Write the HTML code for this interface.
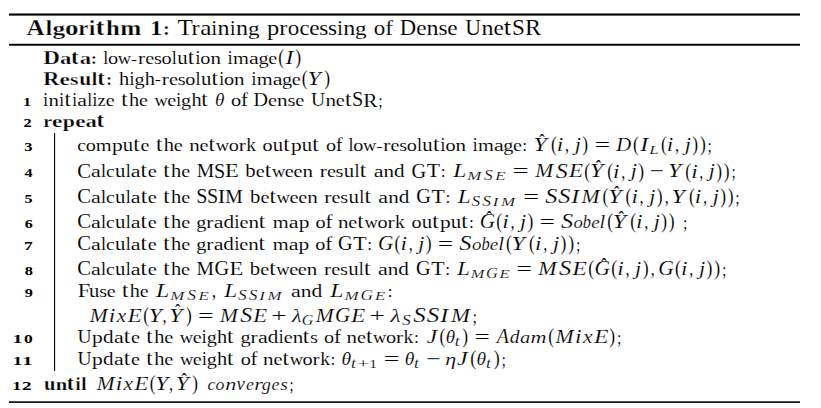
<!DOCTYPE html><html><head><meta charset="utf-8"><title>Algorithm 1</title><style>html,body{margin:0;padding:0;background:#fff;width:821px;height:408px;overflow:hidden}svg{display:block}text{font-family:"Liberation Serif",serif;fill:#000;stroke:#fff;stroke-width:0.1px}.i{font-style:italic;stroke-width:0.16px}.b{font-weight:bold;stroke-width:0.25px}.n{font-weight:bold;stroke-width:0.0px}</style></head><body>
<svg width="821" height="408" viewBox="0 0 821 408">
<rect x="9" y="13.5" width="791" height="2.1" fill="#000"/>
<rect x="9" y="43.8" width="791" height="1.9" fill="#000"/>
<rect x="9" y="401.3" width="791" height="1.6" fill="#000"/>
<rect x="54" y="133" width="1.1" height="238" fill="#000"/>
<g id="title_t">
<text class="b" x="26.46" y="35.00" font-size="22.78" textLength="18.05" lengthAdjust="spacingAndGlyphs">A</text>
<text class="b" x="45.79" y="35.00" font-size="21.49" textLength="6.37" lengthAdjust="spacingAndGlyphs">l</text>
<text class="b" x="52.41" y="35.07" font-size="19.23" textLength="12.67" lengthAdjust="spacingAndGlyphs">g</text>
<text class="b" x="64.91" y="34.93" font-size="20.50" textLength="13.46" lengthAdjust="spacingAndGlyphs">o</text>
<text class="b" x="78.28" y="35.00" font-size="20.41" textLength="10.06" lengthAdjust="spacingAndGlyphs">r</text>
<text class="b" x="89.11" y="35.00" font-size="21.52" textLength="6.19" lengthAdjust="spacingAndGlyphs">i</text>
<text class="b" x="95.80" y="34.89" font-size="24.04" textLength="8.60" lengthAdjust="spacingAndGlyphs">t</text>
<text class="b" x="106.08" y="35.00" font-size="21.49" textLength="13.75" lengthAdjust="spacingAndGlyphs">h</text>
<text class="b" x="120.31" y="35.00" font-size="20.52" textLength="21.02" lengthAdjust="spacingAndGlyphs">m</text>
<text class="b" x="150.02" y="35.00" font-size="21.35" textLength="12.33" lengthAdjust="spacingAndGlyphs">1</text>
<text class="b" x="163.14" y="34.72" font-size="19.75" textLength="6.78" lengthAdjust="spacingAndGlyphs">:</text>
<text x="177.55" y="35.00" font-size="22.25" textLength="15.33" lengthAdjust="spacingAndGlyphs">T</text>
<text x="191.57" y="35.00" font-size="20.11" textLength="8.09" lengthAdjust="spacingAndGlyphs">r</text>
<text x="200.18" y="35.02" font-size="20.45" textLength="11.24" lengthAdjust="spacingAndGlyphs">a</text>
<text x="211.53" y="35.00" font-size="21.58" textLength="5.52" lengthAdjust="spacingAndGlyphs">i</text>
<text x="217.56" y="35.00" font-size="20.11" textLength="12.03" lengthAdjust="spacingAndGlyphs">n</text>
<text x="230.08" y="35.00" font-size="21.58" textLength="5.52" lengthAdjust="spacingAndGlyphs">i</text>
<text x="236.10" y="35.00" font-size="20.11" textLength="12.03" lengthAdjust="spacingAndGlyphs">n</text>
<text x="247.91" y="35.23" font-size="19.36" textLength="11.62" lengthAdjust="spacingAndGlyphs">g</text>
<text x="267.10" y="34.92" font-size="19.94" textLength="12.26" lengthAdjust="spacingAndGlyphs">p</text>
<text x="279.37" y="35.00" font-size="20.11" textLength="8.09" lengthAdjust="spacingAndGlyphs">r</text>
<text x="287.68" y="35.02" font-size="20.37" textLength="11.50" lengthAdjust="spacingAndGlyphs">o</text>
<text x="299.56" y="35.02" font-size="20.37" textLength="9.98" lengthAdjust="spacingAndGlyphs">c</text>
<text x="309.29" y="35.02" font-size="20.37" textLength="10.28" lengthAdjust="spacingAndGlyphs">e</text>
<text x="319.20" y="35.02" font-size="20.37" textLength="9.04" lengthAdjust="spacingAndGlyphs">s</text>
<text x="327.98" y="35.02" font-size="20.37" textLength="9.04" lengthAdjust="spacingAndGlyphs">s</text>
<text x="337.29" y="35.00" font-size="21.58" textLength="5.52" lengthAdjust="spacingAndGlyphs">i</text>
<text x="343.32" y="35.00" font-size="20.11" textLength="12.03" lengthAdjust="spacingAndGlyphs">n</text>
<text x="355.12" y="35.23" font-size="19.36" textLength="11.62" lengthAdjust="spacingAndGlyphs">g</text>
<text x="373.85" y="35.02" font-size="20.37" textLength="11.50" lengthAdjust="spacingAndGlyphs">o</text>
<text x="385.16" y="35.00" font-size="21.48" textLength="7.79" lengthAdjust="spacingAndGlyphs">f</text>
<text x="399.69" y="34.96" font-size="22.34" textLength="16.36" lengthAdjust="spacingAndGlyphs">D</text>
<text x="416.16" y="35.02" font-size="20.37" textLength="10.28" lengthAdjust="spacingAndGlyphs">e</text>
<text x="426.45" y="35.00" font-size="20.11" textLength="12.03" lengthAdjust="spacingAndGlyphs">n</text>
<text x="438.44" y="35.02" font-size="20.37" textLength="9.04" lengthAdjust="spacingAndGlyphs">s</text>
<text x="447.19" y="35.02" font-size="20.37" textLength="10.28" lengthAdjust="spacingAndGlyphs">e</text>
<text x="465.22" y="35.23" font-size="22.76" textLength="15.71" lengthAdjust="spacingAndGlyphs">U</text>
<text x="481.60" y="35.00" font-size="20.11" textLength="12.03" lengthAdjust="spacingAndGlyphs">n</text>
<text x="493.57" y="35.02" font-size="20.37" textLength="10.28" lengthAdjust="spacingAndGlyphs">e</text>
<text x="503.83" y="34.99" font-size="23.44" textLength="7.42" lengthAdjust="spacingAndGlyphs">t</text>
<text x="512.02" y="35.22" font-size="23.18" textLength="12.87" lengthAdjust="spacingAndGlyphs">S</text>
<text x="524.96" y="35.45" font-size="23.10" textLength="16.07" lengthAdjust="spacingAndGlyphs">R</text>
</g>
<g id="data_t">
<text class="b" x="43.29" y="64.16" font-size="19.28" textLength="16.71" lengthAdjust="spacingAndGlyphs">D</text>
<text class="b" x="60.04" y="64.14" font-size="17.69" textLength="11.33" lengthAdjust="spacingAndGlyphs">a</text>
<text class="b" x="71.09" y="64.11" font-size="20.66" textLength="7.50" lengthAdjust="spacingAndGlyphs">t</text>
<text class="b" x="79.67" y="64.14" font-size="17.69" textLength="11.33" lengthAdjust="spacingAndGlyphs">a</text>
<text class="b" x="90.71" y="63.96" font-size="16.97" textLength="6.27" lengthAdjust="spacingAndGlyphs">:</text>
<text x="103.14" y="64.20" font-size="18.46" textLength="5.03" lengthAdjust="spacingAndGlyphs">l</text>
<text x="108.02" y="64.23" font-size="17.62" textLength="10.14" lengthAdjust="spacingAndGlyphs">o</text>
<text x="117.74" y="64.23" font-size="17.40" textLength="13.39" lengthAdjust="spacingAndGlyphs">w</text>
<text x="131.12" y="63.67" font-size="14.77" textLength="6.15" lengthAdjust="spacingAndGlyphs">-</text>
<text x="138.00" y="64.20" font-size="17.31" textLength="7.14" lengthAdjust="spacingAndGlyphs">r</text>
<text x="145.24" y="64.23" font-size="17.62" textLength="9.00" lengthAdjust="spacingAndGlyphs">e</text>
<text x="153.91" y="64.23" font-size="17.62" textLength="7.91" lengthAdjust="spacingAndGlyphs">s</text>
<text x="161.53" y="64.23" font-size="17.62" textLength="10.14" lengthAdjust="spacingAndGlyphs">o</text>
<text x="171.74" y="64.20" font-size="18.46" textLength="5.03" lengthAdjust="spacingAndGlyphs">l</text>
<text x="177.20" y="64.23" font-size="17.84" textLength="10.39" lengthAdjust="spacingAndGlyphs">u</text>
<text x="187.77" y="64.20" font-size="20.17" textLength="6.43" lengthAdjust="spacingAndGlyphs">t</text>
<text x="195.45" y="64.20" font-size="18.65" textLength="4.85" lengthAdjust="spacingAndGlyphs">i</text>
<text x="200.34" y="64.23" font-size="17.62" textLength="10.14" lengthAdjust="spacingAndGlyphs">o</text>
<text x="210.40" y="64.20" font-size="17.31" textLength="10.56" lengthAdjust="spacingAndGlyphs">n</text>
<text x="227.80" y="64.20" font-size="18.65" textLength="4.85" lengthAdjust="spacingAndGlyphs">i</text>
<text x="233.09" y="64.20" font-size="17.31" textLength="15.90" lengthAdjust="spacingAndGlyphs">m</text>
<text x="249.13" y="64.23" font-size="17.69" textLength="9.81" lengthAdjust="spacingAndGlyphs">a</text>
<text x="258.46" y="64.40" font-size="16.69" textLength="10.12" lengthAdjust="spacingAndGlyphs">g</text>
<text x="268.23" y="64.23" font-size="17.62" textLength="9.00" lengthAdjust="spacingAndGlyphs">e</text>
<text x="278.26" y="64.48" font-size="20.36" textLength="5.84" lengthAdjust="spacingAndGlyphs">(</text>
<text class="i" x="285.40" y="64.20" font-size="19.25" textLength="7.96" lengthAdjust="spacingAndGlyphs">I</text>
<text x="295.23" y="64.48" font-size="20.36" textLength="5.84" lengthAdjust="spacingAndGlyphs">)</text>
</g>
<g id="res_t">
<text class="b" x="43.32" y="85.21" font-size="19.65" textLength="16.08" lengthAdjust="spacingAndGlyphs">R</text>
<text class="b" x="59.51" y="84.95" font-size="17.67" textLength="10.37" lengthAdjust="spacingAndGlyphs">e</text>
<text class="b" x="69.99" y="84.95" font-size="17.62" textLength="8.51" lengthAdjust="spacingAndGlyphs">s</text>
<text class="b" x="79.27" y="84.90" font-size="17.86" textLength="11.97" lengthAdjust="spacingAndGlyphs">u</text>
<text class="b" x="91.65" y="85.01" font-size="18.46" textLength="5.50" lengthAdjust="spacingAndGlyphs">l</text>
<text class="b" x="97.37" y="84.92" font-size="20.66" textLength="7.47" lengthAdjust="spacingAndGlyphs">t</text>
<text class="b" x="106.04" y="84.77" font-size="16.97" textLength="6.24" lengthAdjust="spacingAndGlyphs">:</text>
<text x="119.00" y="85.01" font-size="18.46" textLength="10.22" lengthAdjust="spacingAndGlyphs">h</text>
<text x="129.62" y="85.01" font-size="18.65" textLength="4.85" lengthAdjust="spacingAndGlyphs">i</text>
<text x="134.41" y="85.21" font-size="16.69" textLength="10.11" lengthAdjust="spacingAndGlyphs">g</text>
<text x="144.84" y="85.01" font-size="18.46" textLength="10.22" lengthAdjust="spacingAndGlyphs">h</text>
<text x="154.89" y="84.48" font-size="14.77" textLength="6.15" lengthAdjust="spacingAndGlyphs">-</text>
<text x="161.76" y="85.01" font-size="17.31" textLength="7.13" lengthAdjust="spacingAndGlyphs">r</text>
<text x="168.99" y="85.04" font-size="17.62" textLength="8.99" lengthAdjust="spacingAndGlyphs">e</text>
<text x="177.66" y="85.04" font-size="17.62" textLength="7.90" lengthAdjust="spacingAndGlyphs">s</text>
<text x="185.27" y="85.04" font-size="17.62" textLength="10.13" lengthAdjust="spacingAndGlyphs">o</text>
<text x="195.46" y="85.01" font-size="18.46" textLength="5.03" lengthAdjust="spacingAndGlyphs">l</text>
<text x="200.92" y="85.04" font-size="17.84" textLength="10.38" lengthAdjust="spacingAndGlyphs">u</text>
<text x="211.48" y="85.01" font-size="20.17" textLength="6.43" lengthAdjust="spacingAndGlyphs">t</text>
<text x="219.15" y="85.01" font-size="18.65" textLength="4.85" lengthAdjust="spacingAndGlyphs">i</text>
<text x="224.03" y="85.04" font-size="17.62" textLength="10.13" lengthAdjust="spacingAndGlyphs">o</text>
<text x="234.09" y="85.01" font-size="17.31" textLength="10.55" lengthAdjust="spacingAndGlyphs">n</text>
<text x="251.44" y="85.01" font-size="18.65" textLength="4.85" lengthAdjust="spacingAndGlyphs">i</text>
<text x="256.75" y="85.01" font-size="17.31" textLength="15.88" lengthAdjust="spacingAndGlyphs">m</text>
<text x="272.74" y="85.04" font-size="17.69" textLength="9.81" lengthAdjust="spacingAndGlyphs">a</text>
<text x="282.07" y="85.21" font-size="16.69" textLength="10.11" lengthAdjust="spacingAndGlyphs">g</text>
<text x="291.84" y="85.04" font-size="17.62" textLength="8.99" lengthAdjust="spacingAndGlyphs">e</text>
<text x="301.85" y="85.29" font-size="20.36" textLength="5.83" lengthAdjust="spacingAndGlyphs">(</text>
<text class="i" x="307.55" y="85.01" font-size="19.25" textLength="13.33" lengthAdjust="spacingAndGlyphs">Y</text>
<text x="324.34" y="85.29" font-size="20.36" textLength="5.83" lengthAdjust="spacingAndGlyphs">)</text>
</g>
<g id="l1_n">
<text class="n" x="23.09" y="106.10" font-size="11.50" textLength="8.16" lengthAdjust="spacingAndGlyphs">1</text>
</g>
<g id="l1_t">
<text x="43.34" y="106.10" font-size="18.65" textLength="4.81" lengthAdjust="spacingAndGlyphs">i</text>
<text x="48.54" y="106.10" font-size="17.31" textLength="10.47" lengthAdjust="spacingAndGlyphs">n</text>
<text x="59.37" y="106.10" font-size="18.65" textLength="4.81" lengthAdjust="spacingAndGlyphs">i</text>
<text x="64.58" y="106.10" font-size="20.17" textLength="6.38" lengthAdjust="spacingAndGlyphs">t</text>
<text x="72.19" y="106.10" font-size="18.65" textLength="4.81" lengthAdjust="spacingAndGlyphs">i</text>
<text x="77.30" y="106.13" font-size="17.69" textLength="9.75" lengthAdjust="spacingAndGlyphs">a</text>
<text x="87.15" y="106.10" font-size="18.46" textLength="4.99" lengthAdjust="spacingAndGlyphs">l</text>
<text x="92.49" y="106.10" font-size="18.65" textLength="4.81" lengthAdjust="spacingAndGlyphs">i</text>
<text x="97.60" y="106.10" font-size="17.33" textLength="8.18" lengthAdjust="spacingAndGlyphs">z</text>
<text x="105.86" y="106.13" font-size="17.62" textLength="8.93" lengthAdjust="spacingAndGlyphs">e</text>
<text x="121.20" y="106.10" font-size="20.17" textLength="6.38" lengthAdjust="spacingAndGlyphs">t</text>
<text x="128.96" y="106.10" font-size="18.46" textLength="10.14" lengthAdjust="spacingAndGlyphs">h</text>
<text x="138.98" y="106.13" font-size="17.62" textLength="8.93" lengthAdjust="spacingAndGlyphs">e</text>
<text x="154.52" y="106.13" font-size="17.40" textLength="13.27" lengthAdjust="spacingAndGlyphs">w</text>
<text x="167.30" y="106.13" font-size="17.62" textLength="8.93" lengthAdjust="spacingAndGlyphs">e</text>
<text x="176.37" y="106.10" font-size="18.65" textLength="4.81" lengthAdjust="spacingAndGlyphs">i</text>
<text x="181.11" y="106.30" font-size="16.69" textLength="10.03" lengthAdjust="spacingAndGlyphs">g</text>
<text x="191.47" y="106.10" font-size="18.46" textLength="10.14" lengthAdjust="spacingAndGlyphs">h</text>
<text x="201.34" y="106.10" font-size="20.17" textLength="6.38" lengthAdjust="spacingAndGlyphs">t</text>
<text class="i" x="214.96" y="106.12" font-size="18.64" textLength="9.43" lengthAdjust="spacingAndGlyphs">θ</text>
<text x="231.03" y="106.13" font-size="17.62" textLength="10.18" lengthAdjust="spacingAndGlyphs">o</text>
<text x="241.01" y="106.10" font-size="18.48" textLength="6.95" lengthAdjust="spacingAndGlyphs">f</text>
<text x="253.55" y="106.06" font-size="19.20" textLength="14.47" lengthAdjust="spacingAndGlyphs">D</text>
<text x="268.08" y="106.13" font-size="17.62" textLength="9.04" lengthAdjust="spacingAndGlyphs">e</text>
<text x="277.13" y="106.10" font-size="17.31" textLength="10.61" lengthAdjust="spacingAndGlyphs">n</text>
<text x="287.62" y="106.13" font-size="17.62" textLength="7.95" lengthAdjust="spacingAndGlyphs">s</text>
<text x="295.25" y="106.13" font-size="17.62" textLength="9.04" lengthAdjust="spacingAndGlyphs">e</text>
<text x="310.90" y="106.31" font-size="19.58" textLength="14.13" lengthAdjust="spacingAndGlyphs">U</text>
<text x="325.41" y="106.10" font-size="17.31" textLength="10.61" lengthAdjust="spacingAndGlyphs">n</text>
<text x="335.85" y="106.13" font-size="17.62" textLength="9.04" lengthAdjust="spacingAndGlyphs">e</text>
<text x="344.90" y="106.10" font-size="20.17" textLength="6.46" lengthAdjust="spacingAndGlyphs">t</text>
<text x="352.07" y="106.31" font-size="19.97" textLength="11.23" lengthAdjust="spacingAndGlyphs">S</text>
<text x="363.23" y="106.50" font-size="19.87" textLength="14.23" lengthAdjust="spacingAndGlyphs">R</text>
<text x="378.44" y="106.82" font-size="18.49" textLength="3.95" lengthAdjust="spacingAndGlyphs">;</text>
</g>
<g id="l2_n">
<text class="n" x="23.52" y="127.01" font-size="11.50" textLength="8.18" lengthAdjust="spacingAndGlyphs">2</text>
</g>
<g id="l2_t">
<text class="b" x="43.17" y="127.01" font-size="17.54" textLength="8.83" lengthAdjust="spacingAndGlyphs">r</text>
<text class="b" x="52.01" y="126.95" font-size="17.67" textLength="10.38" lengthAdjust="spacingAndGlyphs">e</text>
<text class="b" x="62.87" y="126.89" font-size="17.38" textLength="12.10" lengthAdjust="spacingAndGlyphs">p</text>
<text class="b" x="75.29" y="126.95" font-size="17.67" textLength="10.38" lengthAdjust="spacingAndGlyphs">e</text>
<text class="b" x="85.61" y="126.95" font-size="17.69" textLength="11.29" lengthAdjust="spacingAndGlyphs">a</text>
<text class="b" x="96.62" y="126.92" font-size="20.66" textLength="7.48" lengthAdjust="spacingAndGlyphs">t</text>
</g>
<g id="l3_n">
<text class="n" x="24.29" y="151.20" font-size="11.50" textLength="8.27" lengthAdjust="spacingAndGlyphs">3</text>
</g>
<g id="l3_t">
<text x="77.25" y="151.23" font-size="17.62" textLength="8.72" lengthAdjust="spacingAndGlyphs">c</text>
<text x="85.71" y="151.23" font-size="17.62" textLength="10.11" lengthAdjust="spacingAndGlyphs">o</text>
<text x="95.80" y="151.20" font-size="17.31" textLength="15.86" lengthAdjust="spacingAndGlyphs">m</text>
<text x="111.93" y="151.12" font-size="17.16" textLength="10.72" lengthAdjust="spacingAndGlyphs">p</text>
<text x="122.83" y="151.23" font-size="17.84" textLength="10.36" lengthAdjust="spacingAndGlyphs">u</text>
<text x="133.37" y="151.20" font-size="20.17" textLength="6.42" lengthAdjust="spacingAndGlyphs">t</text>
<text x="140.51" y="151.23" font-size="17.62" textLength="8.98" lengthAdjust="spacingAndGlyphs">e</text>
<text x="155.94" y="151.20" font-size="20.17" textLength="6.42" lengthAdjust="spacingAndGlyphs">t</text>
<text x="163.74" y="151.20" font-size="18.46" textLength="10.20" lengthAdjust="spacingAndGlyphs">h</text>
<text x="173.82" y="151.23" font-size="17.62" textLength="8.98" lengthAdjust="spacingAndGlyphs">e</text>
<text x="189.26" y="151.20" font-size="17.31" textLength="10.53" lengthAdjust="spacingAndGlyphs">n</text>
<text x="199.62" y="151.23" font-size="17.62" textLength="8.98" lengthAdjust="spacingAndGlyphs">e</text>
<text x="208.61" y="151.20" font-size="20.17" textLength="6.42" lengthAdjust="spacingAndGlyphs">t</text>
<text x="215.78" y="151.23" font-size="17.40" textLength="13.35" lengthAdjust="spacingAndGlyphs">w</text>
<text x="228.65" y="151.23" font-size="17.62" textLength="10.11" lengthAdjust="spacingAndGlyphs">o</text>
<text x="238.67" y="151.20" font-size="17.31" textLength="7.12" lengthAdjust="spacingAndGlyphs">r</text>
<text x="246.30" y="151.20" font-size="18.46" textLength="9.71" lengthAdjust="spacingAndGlyphs">k</text>
<text x="262.56" y="151.23" font-size="17.62" textLength="10.11" lengthAdjust="spacingAndGlyphs">o</text>
<text x="272.80" y="151.23" font-size="17.84" textLength="10.36" lengthAdjust="spacingAndGlyphs">u</text>
<text x="283.35" y="151.20" font-size="20.17" textLength="6.42" lengthAdjust="spacingAndGlyphs">t</text>
<text x="290.93" y="151.12" font-size="17.16" textLength="10.72" lengthAdjust="spacingAndGlyphs">p</text>
<text x="301.83" y="151.23" font-size="17.84" textLength="10.36" lengthAdjust="spacingAndGlyphs">u</text>
<text x="312.37" y="151.20" font-size="20.17" textLength="6.42" lengthAdjust="spacingAndGlyphs">t</text>
<text x="325.98" y="151.23" font-size="17.62" textLength="10.11" lengthAdjust="spacingAndGlyphs">o</text>
<text x="335.89" y="151.20" font-size="18.48" textLength="6.91" lengthAdjust="spacingAndGlyphs">f</text>
<text x="348.52" y="151.20" font-size="18.46" textLength="5.02" lengthAdjust="spacingAndGlyphs">l</text>
<text x="353.39" y="151.23" font-size="17.62" textLength="10.11" lengthAdjust="spacingAndGlyphs">o</text>
<text x="363.08" y="151.23" font-size="17.40" textLength="13.35" lengthAdjust="spacingAndGlyphs">w</text>
<text x="376.41" y="150.67" font-size="14.77" textLength="6.15" lengthAdjust="spacingAndGlyphs">-</text>
<text x="383.28" y="151.20" font-size="17.31" textLength="7.12" lengthAdjust="spacingAndGlyphs">r</text>
<text x="390.49" y="151.23" font-size="17.62" textLength="8.98" lengthAdjust="spacingAndGlyphs">e</text>
<text x="399.15" y="151.23" font-size="17.62" textLength="7.89" lengthAdjust="spacingAndGlyphs">s</text>
<text x="406.74" y="151.23" font-size="17.62" textLength="10.11" lengthAdjust="spacingAndGlyphs">o</text>
<text x="416.92" y="151.20" font-size="18.46" textLength="5.02" lengthAdjust="spacingAndGlyphs">l</text>
<text x="422.36" y="151.23" font-size="17.84" textLength="10.36" lengthAdjust="spacingAndGlyphs">u</text>
<text x="432.91" y="151.20" font-size="20.17" textLength="6.42" lengthAdjust="spacingAndGlyphs">t</text>
<text x="440.56" y="151.20" font-size="18.65" textLength="4.84" lengthAdjust="spacingAndGlyphs">i</text>
<text x="445.44" y="151.23" font-size="17.62" textLength="10.11" lengthAdjust="spacingAndGlyphs">o</text>
<text x="455.47" y="151.20" font-size="17.31" textLength="10.53" lengthAdjust="spacingAndGlyphs">n</text>
<text x="472.82" y="151.20" font-size="18.65" textLength="4.84" lengthAdjust="spacingAndGlyphs">i</text>
<text x="478.09" y="151.20" font-size="17.31" textLength="15.86" lengthAdjust="spacingAndGlyphs">m</text>
<text x="494.08" y="151.23" font-size="17.69" textLength="9.80" lengthAdjust="spacingAndGlyphs">a</text>
<text x="503.39" y="151.40" font-size="16.69" textLength="10.09" lengthAdjust="spacingAndGlyphs">g</text>
<text x="513.14" y="151.23" font-size="17.62" textLength="8.98" lengthAdjust="spacingAndGlyphs">e</text>
<text x="522.27" y="150.96" font-size="16.46" textLength="4.84" lengthAdjust="spacingAndGlyphs">:</text>
<text class="i" x="533.43" y="151.20" font-size="19.25" textLength="13.38" lengthAdjust="spacingAndGlyphs">Y</text>
<text x="539.18" y="146.81" font-size="19.02" textLength="5.47" lengthAdjust="spacingAndGlyphs">ˆ</text>
<text x="550.89" y="151.48" font-size="20.36" textLength="5.85" lengthAdjust="spacingAndGlyphs">(</text>
<text class="i" x="556.89" y="151.40" font-size="18.73" textLength="6.51" lengthAdjust="spacingAndGlyphs">i</text>
<text class="i" x="565.05" y="151.45" font-size="21.49" textLength="4.03" lengthAdjust="spacingAndGlyphs">,</text>
<text class="i" x="574.78" y="151.09" font-size="18.27" textLength="6.15" lengthAdjust="spacingAndGlyphs">j</text>
<text x="582.33" y="151.48" font-size="20.36" textLength="5.85" lengthAdjust="spacingAndGlyphs">)</text>
<text x="594.47" y="151.20" font-size="18.46" textLength="15.68" lengthAdjust="spacingAndGlyphs">=</text>
<text class="i" x="616.31" y="151.16" font-size="19.20" textLength="14.95" lengthAdjust="spacingAndGlyphs">D</text>
<text x="633.11" y="151.48" font-size="20.36" textLength="5.85" lengthAdjust="spacingAndGlyphs">(</text>
<text class="i" x="640.27" y="151.20" font-size="19.25" textLength="7.98" lengthAdjust="spacingAndGlyphs">I</text>
<text class="i" x="649.27" y="154.05" font-size="13.48" textLength="9.37" lengthAdjust="spacingAndGlyphs">L</text>
<text x="660.88" y="151.48" font-size="20.36" textLength="5.85" lengthAdjust="spacingAndGlyphs">(</text>
<text class="i" x="666.87" y="151.40" font-size="18.73" textLength="6.51" lengthAdjust="spacingAndGlyphs">i</text>
<text class="i" x="675.03" y="151.45" font-size="21.49" textLength="4.03" lengthAdjust="spacingAndGlyphs">,</text>
<text class="i" x="684.76" y="151.09" font-size="18.27" textLength="6.15" lengthAdjust="spacingAndGlyphs">j</text>
<text x="692.31" y="151.48" font-size="20.36" textLength="5.85" lengthAdjust="spacingAndGlyphs">)</text>
<text x="699.88" y="151.48" font-size="20.36" textLength="5.85" lengthAdjust="spacingAndGlyphs">)</text>
<text x="707.84" y="151.92" font-size="18.49" textLength="3.94" lengthAdjust="spacingAndGlyphs">;</text>
</g>
<g id="l4_n">
<text class="n" x="24.64" y="177.40" font-size="11.50" textLength="8.06" lengthAdjust="spacingAndGlyphs">4</text>
</g>
<g id="l4_t">
<text x="77.15" y="177.61" font-size="19.97" textLength="13.80" lengthAdjust="spacingAndGlyphs">C</text>
<text x="90.96" y="177.43" font-size="17.69" textLength="9.81" lengthAdjust="spacingAndGlyphs">a</text>
<text x="100.89" y="177.40" font-size="18.46" textLength="5.03" lengthAdjust="spacingAndGlyphs">l</text>
<text x="105.91" y="177.43" font-size="17.62" textLength="8.75" lengthAdjust="spacingAndGlyphs">c</text>
<text x="114.97" y="177.43" font-size="17.84" textLength="10.38" lengthAdjust="spacingAndGlyphs">u</text>
<text x="125.68" y="177.40" font-size="18.46" textLength="5.03" lengthAdjust="spacingAndGlyphs">l</text>
<text x="130.83" y="177.43" font-size="17.69" textLength="9.81" lengthAdjust="spacingAndGlyphs">a</text>
<text x="140.63" y="177.40" font-size="20.17" textLength="6.43" lengthAdjust="spacingAndGlyphs">t</text>
<text x="147.78" y="177.43" font-size="17.62" textLength="9.00" lengthAdjust="spacingAndGlyphs">e</text>
<text x="163.25" y="177.40" font-size="20.17" textLength="6.43" lengthAdjust="spacingAndGlyphs">t</text>
<text x="171.07" y="177.40" font-size="18.46" textLength="10.22" lengthAdjust="spacingAndGlyphs">h</text>
<text x="181.17" y="177.43" font-size="17.62" textLength="9.00" lengthAdjust="spacingAndGlyphs">e</text>
<text x="196.67" y="177.40" font-size="19.25" textLength="17.47" lengthAdjust="spacingAndGlyphs">M</text>
<text x="214.04" y="177.61" font-size="19.97" textLength="11.18" lengthAdjust="spacingAndGlyphs">S</text>
<text x="225.06" y="177.40" font-size="19.17" textLength="13.78" lengthAdjust="spacingAndGlyphs">E</text>
<text x="245.27" y="177.42" font-size="18.49" textLength="10.35" lengthAdjust="spacingAndGlyphs">b</text>
<text x="255.80" y="177.43" font-size="17.62" textLength="9.00" lengthAdjust="spacingAndGlyphs">e</text>
<text x="264.81" y="177.40" font-size="20.17" textLength="6.43" lengthAdjust="spacingAndGlyphs">t</text>
<text x="272.00" y="177.43" font-size="17.40" textLength="13.38" lengthAdjust="spacingAndGlyphs">w</text>
<text x="284.88" y="177.43" font-size="17.62" textLength="9.00" lengthAdjust="spacingAndGlyphs">e</text>
<text x="293.50" y="177.43" font-size="17.62" textLength="9.00" lengthAdjust="spacingAndGlyphs">e</text>
<text x="302.50" y="177.40" font-size="17.31" textLength="10.56" lengthAdjust="spacingAndGlyphs">n</text>
<text x="319.73" y="177.40" font-size="17.31" textLength="7.13" lengthAdjust="spacingAndGlyphs">r</text>
<text x="326.97" y="177.43" font-size="17.62" textLength="9.00" lengthAdjust="spacingAndGlyphs">e</text>
<text x="335.64" y="177.43" font-size="17.62" textLength="7.91" lengthAdjust="spacingAndGlyphs">s</text>
<text x="343.83" y="177.43" font-size="17.84" textLength="10.38" lengthAdjust="spacingAndGlyphs">u</text>
<text x="354.54" y="177.40" font-size="18.46" textLength="5.03" lengthAdjust="spacingAndGlyphs">l</text>
<text x="359.79" y="177.40" font-size="20.17" textLength="6.43" lengthAdjust="spacingAndGlyphs">t</text>
<text x="373.69" y="177.43" font-size="17.69" textLength="9.81" lengthAdjust="spacingAndGlyphs">a</text>
<text x="383.48" y="177.40" font-size="17.31" textLength="10.56" lengthAdjust="spacingAndGlyphs">n</text>
<text x="394.01" y="177.42" font-size="18.49" textLength="10.58" lengthAdjust="spacingAndGlyphs">d</text>
<text x="411.61" y="177.61" font-size="19.97" textLength="14.63" lengthAdjust="spacingAndGlyphs">G</text>
<text x="426.87" y="177.40" font-size="19.08" textLength="13.34" lengthAdjust="spacingAndGlyphs">T</text>
<text x="440.86" y="177.16" font-size="16.46" textLength="4.85" lengthAdjust="spacingAndGlyphs">:</text>
<text class="i" x="453.18" y="177.40" font-size="19.25" textLength="13.07" lengthAdjust="spacingAndGlyphs">L</text>
<text class="i" x="467.19" y="180.25" font-size="13.48" textLength="14.03" lengthAdjust="spacingAndGlyphs">M</text>
<text class="i" x="484.11" y="180.37" font-size="13.90" textLength="8.69" lengthAdjust="spacingAndGlyphs">S</text>
<text class="i" x="495.15" y="180.25" font-size="13.40" textLength="10.23" lengthAdjust="spacingAndGlyphs">E</text>
<text x="512.57" y="177.40" font-size="18.46" textLength="16.32" lengthAdjust="spacingAndGlyphs">=</text>
<text class="i" x="535.35" y="177.40" font-size="19.25" textLength="18.01" lengthAdjust="spacingAndGlyphs">M</text>
<text class="i" x="555.75" y="177.61" font-size="19.97" textLength="12.07" lengthAdjust="spacingAndGlyphs">S</text>
<text class="i" x="568.93" y="177.40" font-size="19.17" textLength="14.05" lengthAdjust="spacingAndGlyphs">E</text>
<text x="584.36" y="177.68" font-size="20.36" textLength="5.78" lengthAdjust="spacingAndGlyphs">(</text>
<text class="i" x="590.01" y="177.40" font-size="19.25" textLength="13.22" lengthAdjust="spacingAndGlyphs">Y</text>
<text x="595.69" y="173.01" font-size="19.02" textLength="5.40" lengthAdjust="spacingAndGlyphs">ˆ</text>
<text x="607.26" y="177.68" font-size="20.36" textLength="5.78" lengthAdjust="spacingAndGlyphs">(</text>
<text class="i" x="613.14" y="177.60" font-size="18.73" textLength="6.51" lengthAdjust="spacingAndGlyphs">i</text>
<text class="i" x="621.21" y="177.65" font-size="21.49" textLength="4.03" lengthAdjust="spacingAndGlyphs">,</text>
<text class="i" x="630.85" y="177.29" font-size="18.27" textLength="6.07" lengthAdjust="spacingAndGlyphs">j</text>
<text x="638.30" y="177.68" font-size="20.36" textLength="5.78" lengthAdjust="spacingAndGlyphs">)</text>
<text x="649.85" y="177.40" font-size="18.46" textLength="14.23" lengthAdjust="spacingAndGlyphs">−</text>
<text class="i" x="668.04" y="177.40" font-size="19.25" textLength="13.22" lengthAdjust="spacingAndGlyphs">Y</text>
<text x="685.30" y="177.68" font-size="20.36" textLength="5.78" lengthAdjust="spacingAndGlyphs">(</text>
<text class="i" x="691.17" y="177.60" font-size="18.73" textLength="6.51" lengthAdjust="spacingAndGlyphs">i</text>
<text class="i" x="699.25" y="177.65" font-size="21.49" textLength="4.03" lengthAdjust="spacingAndGlyphs">,</text>
<text class="i" x="708.89" y="177.29" font-size="18.27" textLength="6.07" lengthAdjust="spacingAndGlyphs">j</text>
<text x="716.34" y="177.68" font-size="20.36" textLength="5.78" lengthAdjust="spacingAndGlyphs">)</text>
<text x="723.81" y="177.68" font-size="20.36" textLength="5.78" lengthAdjust="spacingAndGlyphs">)</text>
<text x="731.68" y="178.12" font-size="18.49" textLength="3.90" lengthAdjust="spacingAndGlyphs">;</text>
</g>
<g id="l5_n">
<text class="n" x="24.56" y="203.19" font-size="11.50" textLength="8.02" lengthAdjust="spacingAndGlyphs">5</text>
</g>
<g id="l5_t">
<text x="77.15" y="203.41" font-size="19.97" textLength="13.81" lengthAdjust="spacingAndGlyphs">C</text>
<text x="90.97" y="203.22" font-size="17.69" textLength="9.81" lengthAdjust="spacingAndGlyphs">a</text>
<text x="100.90" y="203.19" font-size="18.46" textLength="5.03" lengthAdjust="spacingAndGlyphs">l</text>
<text x="105.92" y="203.23" font-size="17.62" textLength="8.75" lengthAdjust="spacingAndGlyphs">c</text>
<text x="114.98" y="203.22" font-size="17.84" textLength="10.39" lengthAdjust="spacingAndGlyphs">u</text>
<text x="125.69" y="203.19" font-size="18.46" textLength="5.03" lengthAdjust="spacingAndGlyphs">l</text>
<text x="130.85" y="203.22" font-size="17.69" textLength="9.81" lengthAdjust="spacingAndGlyphs">a</text>
<text x="140.65" y="203.20" font-size="20.17" textLength="6.43" lengthAdjust="spacingAndGlyphs">t</text>
<text x="147.80" y="203.23" font-size="17.62" textLength="9.00" lengthAdjust="spacingAndGlyphs">e</text>
<text x="163.27" y="203.20" font-size="20.17" textLength="6.43" lengthAdjust="spacingAndGlyphs">t</text>
<text x="171.10" y="203.19" font-size="18.46" textLength="10.23" lengthAdjust="spacingAndGlyphs">h</text>
<text x="181.20" y="203.23" font-size="17.62" textLength="9.00" lengthAdjust="spacingAndGlyphs">e</text>
<text x="196.30" y="203.41" font-size="19.97" textLength="11.19" lengthAdjust="spacingAndGlyphs">S</text>
<text x="207.07" y="203.41" font-size="19.97" textLength="11.19" lengthAdjust="spacingAndGlyphs">S</text>
<text x="217.84" y="203.19" font-size="19.25" textLength="7.53" lengthAdjust="spacingAndGlyphs">I</text>
<text x="225.27" y="203.19" font-size="19.25" textLength="17.48" lengthAdjust="spacingAndGlyphs">M</text>
<text x="249.91" y="203.22" font-size="18.49" textLength="10.35" lengthAdjust="spacingAndGlyphs">b</text>
<text x="260.44" y="203.23" font-size="17.62" textLength="9.00" lengthAdjust="spacingAndGlyphs">e</text>
<text x="269.45" y="203.20" font-size="20.17" textLength="6.43" lengthAdjust="spacingAndGlyphs">t</text>
<text x="276.64" y="203.23" font-size="17.40" textLength="13.39" lengthAdjust="spacingAndGlyphs">w</text>
<text x="289.53" y="203.23" font-size="17.62" textLength="9.00" lengthAdjust="spacingAndGlyphs">e</text>
<text x="298.15" y="203.23" font-size="17.62" textLength="9.00" lengthAdjust="spacingAndGlyphs">e</text>
<text x="307.15" y="203.19" font-size="17.31" textLength="10.56" lengthAdjust="spacingAndGlyphs">n</text>
<text x="324.39" y="203.19" font-size="17.31" textLength="7.14" lengthAdjust="spacingAndGlyphs">r</text>
<text x="331.63" y="203.23" font-size="17.62" textLength="9.00" lengthAdjust="spacingAndGlyphs">e</text>
<text x="340.30" y="203.23" font-size="17.62" textLength="7.91" lengthAdjust="spacingAndGlyphs">s</text>
<text x="348.50" y="203.22" font-size="17.84" textLength="10.39" lengthAdjust="spacingAndGlyphs">u</text>
<text x="359.21" y="203.19" font-size="18.46" textLength="5.03" lengthAdjust="spacingAndGlyphs">l</text>
<text x="364.46" y="203.20" font-size="20.17" textLength="6.43" lengthAdjust="spacingAndGlyphs">t</text>
<text x="378.37" y="203.22" font-size="17.69" textLength="9.81" lengthAdjust="spacingAndGlyphs">a</text>
<text x="388.16" y="203.19" font-size="17.31" textLength="10.56" lengthAdjust="spacingAndGlyphs">n</text>
<text x="398.70" y="203.22" font-size="18.49" textLength="10.59" lengthAdjust="spacingAndGlyphs">d</text>
<text x="416.30" y="203.41" font-size="19.97" textLength="14.64" lengthAdjust="spacingAndGlyphs">G</text>
<text x="431.57" y="203.19" font-size="19.08" textLength="13.35" lengthAdjust="spacingAndGlyphs">T</text>
<text x="445.56" y="202.96" font-size="16.46" textLength="4.86" lengthAdjust="spacingAndGlyphs">:</text>
<text class="i" x="457.77" y="203.19" font-size="19.25" textLength="12.97" lengthAdjust="spacingAndGlyphs">L</text>
<text class="i" x="471.62" y="206.17" font-size="13.90" textLength="8.69" lengthAdjust="spacingAndGlyphs">S</text>
<text class="i" x="482.26" y="206.17" font-size="13.90" textLength="8.69" lengthAdjust="spacingAndGlyphs">S</text>
<text class="i" x="492.80" y="206.05" font-size="13.48" textLength="5.61" lengthAdjust="spacingAndGlyphs">I</text>
<text class="i" x="501.14" y="206.05" font-size="13.48" textLength="14.03" lengthAdjust="spacingAndGlyphs">M</text>
<text x="523.03" y="203.19" font-size="18.46" textLength="16.20" lengthAdjust="spacingAndGlyphs">=</text>
<text class="i" x="545.32" y="203.41" font-size="19.97" textLength="12.13" lengthAdjust="spacingAndGlyphs">S</text>
<text class="i" x="558.28" y="203.41" font-size="19.97" textLength="12.13" lengthAdjust="spacingAndGlyphs">S</text>
<text class="i" x="571.26" y="203.19" font-size="19.25" textLength="7.92" lengthAdjust="spacingAndGlyphs">I</text>
<text class="i" x="581.59" y="203.19" font-size="19.25" textLength="18.10" lengthAdjust="spacingAndGlyphs">M</text>
<text x="602.51" y="203.48" font-size="20.36" textLength="5.81" lengthAdjust="spacingAndGlyphs">(</text>
<text class="i" x="608.19" y="203.19" font-size="19.25" textLength="13.28" lengthAdjust="spacingAndGlyphs">Y</text>
<text x="613.90" y="198.81" font-size="19.02" textLength="5.43" lengthAdjust="spacingAndGlyphs">ˆ</text>
<text x="625.53" y="203.48" font-size="20.36" textLength="5.81" lengthAdjust="spacingAndGlyphs">(</text>
<text class="i" x="631.45" y="203.40" font-size="18.73" textLength="6.51" lengthAdjust="spacingAndGlyphs">i</text>
<text class="i" x="639.56" y="203.45" font-size="21.49" textLength="4.03" lengthAdjust="spacingAndGlyphs">,</text>
<text class="i" x="649.24" y="203.09" font-size="18.27" textLength="6.11" lengthAdjust="spacingAndGlyphs">j</text>
<text x="656.73" y="203.48" font-size="20.36" textLength="5.81" lengthAdjust="spacingAndGlyphs">)</text>
<text class="i" x="664.72" y="203.45" font-size="21.49" textLength="4.03" lengthAdjust="spacingAndGlyphs">,</text>
<text class="i" x="671.61" y="203.19" font-size="19.25" textLength="13.28" lengthAdjust="spacingAndGlyphs">Y</text>
<text x="688.94" y="203.48" font-size="20.36" textLength="5.81" lengthAdjust="spacingAndGlyphs">(</text>
<text class="i" x="694.87" y="203.40" font-size="18.73" textLength="6.51" lengthAdjust="spacingAndGlyphs">i</text>
<text class="i" x="702.98" y="203.45" font-size="21.49" textLength="4.03" lengthAdjust="spacingAndGlyphs">,</text>
<text class="i" x="712.65" y="203.09" font-size="18.27" textLength="6.11" lengthAdjust="spacingAndGlyphs">j</text>
<text x="720.15" y="203.48" font-size="20.36" textLength="5.81" lengthAdjust="spacingAndGlyphs">)</text>
<text x="727.66" y="203.48" font-size="20.36" textLength="5.81" lengthAdjust="spacingAndGlyphs">)</text>
<text x="735.57" y="203.91" font-size="18.49" textLength="3.92" lengthAdjust="spacingAndGlyphs">;</text>
</g>
<g id="l6_n">
<text class="n" x="24.66" y="228.19" font-size="11.50" textLength="8.12" lengthAdjust="spacingAndGlyphs">6</text>
</g>
<g id="l6_t">
<text x="77.15" y="228.41" font-size="19.97" textLength="13.81" lengthAdjust="spacingAndGlyphs">C</text>
<text x="90.97" y="228.22" font-size="17.69" textLength="9.81" lengthAdjust="spacingAndGlyphs">a</text>
<text x="100.90" y="228.19" font-size="18.46" textLength="5.03" lengthAdjust="spacingAndGlyphs">l</text>
<text x="105.92" y="228.23" font-size="17.62" textLength="8.75" lengthAdjust="spacingAndGlyphs">c</text>
<text x="114.98" y="228.22" font-size="17.84" textLength="10.39" lengthAdjust="spacingAndGlyphs">u</text>
<text x="125.69" y="228.19" font-size="18.46" textLength="5.03" lengthAdjust="spacingAndGlyphs">l</text>
<text x="130.85" y="228.22" font-size="17.69" textLength="9.81" lengthAdjust="spacingAndGlyphs">a</text>
<text x="140.64" y="228.20" font-size="20.17" textLength="6.43" lengthAdjust="spacingAndGlyphs">t</text>
<text x="147.80" y="228.23" font-size="17.62" textLength="9.00" lengthAdjust="spacingAndGlyphs">e</text>
<text x="163.27" y="228.20" font-size="20.17" textLength="6.43" lengthAdjust="spacingAndGlyphs">t</text>
<text x="171.09" y="228.19" font-size="18.46" textLength="10.23" lengthAdjust="spacingAndGlyphs">h</text>
<text x="181.20" y="228.23" font-size="17.62" textLength="9.00" lengthAdjust="spacingAndGlyphs">e</text>
<text x="196.22" y="228.40" font-size="16.69" textLength="10.12" lengthAdjust="spacingAndGlyphs">g</text>
<text x="206.36" y="228.19" font-size="17.31" textLength="7.14" lengthAdjust="spacingAndGlyphs">r</text>
<text x="213.89" y="228.22" font-size="17.69" textLength="9.81" lengthAdjust="spacingAndGlyphs">a</text>
<text x="223.44" y="228.22" font-size="18.49" textLength="10.59" lengthAdjust="spacingAndGlyphs">d</text>
<text x="234.60" y="228.19" font-size="18.65" textLength="4.85" lengthAdjust="spacingAndGlyphs">i</text>
<text x="239.47" y="228.23" font-size="17.62" textLength="9.00" lengthAdjust="spacingAndGlyphs">e</text>
<text x="248.47" y="228.19" font-size="17.31" textLength="10.56" lengthAdjust="spacingAndGlyphs">n</text>
<text x="258.71" y="228.20" font-size="20.17" textLength="6.43" lengthAdjust="spacingAndGlyphs">t</text>
<text x="272.77" y="228.19" font-size="17.31" textLength="15.90" lengthAdjust="spacingAndGlyphs">m</text>
<text x="288.79" y="228.22" font-size="17.69" textLength="9.81" lengthAdjust="spacingAndGlyphs">a</text>
<text x="298.65" y="228.12" font-size="17.16" textLength="10.73" lengthAdjust="spacingAndGlyphs">p</text>
<text x="315.47" y="228.23" font-size="17.62" textLength="10.14" lengthAdjust="spacingAndGlyphs">o</text>
<text x="325.40" y="228.19" font-size="18.48" textLength="6.93" lengthAdjust="spacingAndGlyphs">f</text>
<text x="337.92" y="228.19" font-size="17.31" textLength="10.56" lengthAdjust="spacingAndGlyphs">n</text>
<text x="348.32" y="228.23" font-size="17.62" textLength="9.00" lengthAdjust="spacingAndGlyphs">e</text>
<text x="357.33" y="228.20" font-size="20.17" textLength="6.43" lengthAdjust="spacingAndGlyphs">t</text>
<text x="364.52" y="228.23" font-size="17.40" textLength="13.39" lengthAdjust="spacingAndGlyphs">w</text>
<text x="377.43" y="228.23" font-size="17.62" textLength="10.14" lengthAdjust="spacingAndGlyphs">o</text>
<text x="387.47" y="228.19" font-size="17.31" textLength="7.14" lengthAdjust="spacingAndGlyphs">r</text>
<text x="395.13" y="228.19" font-size="18.46" textLength="9.74" lengthAdjust="spacingAndGlyphs">k</text>
<text x="411.44" y="228.23" font-size="17.62" textLength="10.14" lengthAdjust="spacingAndGlyphs">o</text>
<text x="421.72" y="228.22" font-size="17.84" textLength="10.39" lengthAdjust="spacingAndGlyphs">u</text>
<text x="432.29" y="228.20" font-size="20.17" textLength="6.43" lengthAdjust="spacingAndGlyphs">t</text>
<text x="439.90" y="228.12" font-size="17.16" textLength="10.73" lengthAdjust="spacingAndGlyphs">p</text>
<text x="450.80" y="228.22" font-size="17.84" textLength="10.39" lengthAdjust="spacingAndGlyphs">u</text>
<text x="461.37" y="228.20" font-size="20.17" textLength="6.43" lengthAdjust="spacingAndGlyphs">t</text>
<text x="469.06" y="227.96" font-size="16.46" textLength="4.85" lengthAdjust="spacingAndGlyphs">:</text>
<text class="i" x="479.83" y="228.42" font-size="20.00" textLength="15.34" lengthAdjust="spacingAndGlyphs">G</text>
<text x="486.50" y="223.81" font-size="19.02" textLength="5.43" lengthAdjust="spacingAndGlyphs">ˆ</text>
<text x="496.36" y="228.48" font-size="20.36" textLength="5.81" lengthAdjust="spacingAndGlyphs">(</text>
<text class="i" x="502.28" y="228.40" font-size="18.73" textLength="6.51" lengthAdjust="spacingAndGlyphs">i</text>
<text class="i" x="510.39" y="228.45" font-size="21.49" textLength="4.03" lengthAdjust="spacingAndGlyphs">,</text>
<text class="i" x="520.06" y="228.09" font-size="18.27" textLength="6.10" lengthAdjust="spacingAndGlyphs">j</text>
<text x="527.55" y="228.48" font-size="20.36" textLength="5.81" lengthAdjust="spacingAndGlyphs">)</text>
<text x="539.59" y="228.19" font-size="18.46" textLength="15.56" lengthAdjust="spacingAndGlyphs">=</text>
<text class="i" x="560.98" y="228.41" font-size="19.97" textLength="12.12" lengthAdjust="spacingAndGlyphs">S</text>
<text class="i" x="573.45" y="228.23" font-size="17.38" textLength="9.38" lengthAdjust="spacingAndGlyphs">o</text>
<text class="i" x="582.87" y="228.22" font-size="18.49" textLength="8.21" lengthAdjust="spacingAndGlyphs">b</text>
<text class="i" x="591.17" y="228.23" font-size="17.38" textLength="8.42" lengthAdjust="spacingAndGlyphs">e</text>
<text class="i" x="599.62" y="228.40" font-size="18.75" textLength="5.66" lengthAdjust="spacingAndGlyphs">l</text>
<text x="607.13" y="228.48" font-size="20.36" textLength="5.81" lengthAdjust="spacingAndGlyphs">(</text>
<text class="i" x="612.81" y="228.19" font-size="19.25" textLength="13.28" lengthAdjust="spacingAndGlyphs">Y</text>
<text x="618.52" y="223.81" font-size="19.02" textLength="5.43" lengthAdjust="spacingAndGlyphs">ˆ</text>
<text x="630.14" y="228.48" font-size="20.36" textLength="5.81" lengthAdjust="spacingAndGlyphs">(</text>
<text class="i" x="636.06" y="228.40" font-size="18.73" textLength="6.51" lengthAdjust="spacingAndGlyphs">i</text>
<text class="i" x="644.17" y="228.45" font-size="21.49" textLength="4.03" lengthAdjust="spacingAndGlyphs">,</text>
<text class="i" x="653.84" y="228.09" font-size="18.27" textLength="6.10" lengthAdjust="spacingAndGlyphs">j</text>
<text x="661.33" y="228.48" font-size="20.36" textLength="5.81" lengthAdjust="spacingAndGlyphs">)</text>
<text x="668.84" y="228.48" font-size="20.36" textLength="5.81" lengthAdjust="spacingAndGlyphs">)</text>
<text x="683.17" y="228.91" font-size="18.49" textLength="3.91" lengthAdjust="spacingAndGlyphs">;</text>
</g>
<g id="l7_n">
<text class="n" x="23.99" y="250.20" font-size="11.50" textLength="8.74" lengthAdjust="spacingAndGlyphs">7</text>
</g>
<g id="l7_t">
<text x="77.15" y="250.41" font-size="19.97" textLength="13.80" lengthAdjust="spacingAndGlyphs">C</text>
<text x="90.96" y="250.23" font-size="17.69" textLength="9.81" lengthAdjust="spacingAndGlyphs">a</text>
<text x="100.89" y="250.20" font-size="18.46" textLength="5.03" lengthAdjust="spacingAndGlyphs">l</text>
<text x="105.91" y="250.23" font-size="17.62" textLength="8.74" lengthAdjust="spacingAndGlyphs">c</text>
<text x="114.96" y="250.23" font-size="17.84" textLength="10.38" lengthAdjust="spacingAndGlyphs">u</text>
<text x="125.67" y="250.20" font-size="18.46" textLength="5.03" lengthAdjust="spacingAndGlyphs">l</text>
<text x="130.82" y="250.23" font-size="17.69" textLength="9.81" lengthAdjust="spacingAndGlyphs">a</text>
<text x="140.61" y="250.21" font-size="20.17" textLength="6.43" lengthAdjust="spacingAndGlyphs">t</text>
<text x="147.76" y="250.23" font-size="17.62" textLength="9.00" lengthAdjust="spacingAndGlyphs">e</text>
<text x="163.23" y="250.21" font-size="20.17" textLength="6.43" lengthAdjust="spacingAndGlyphs">t</text>
<text x="171.05" y="250.20" font-size="18.46" textLength="10.22" lengthAdjust="spacingAndGlyphs">h</text>
<text x="181.15" y="250.23" font-size="17.62" textLength="9.00" lengthAdjust="spacingAndGlyphs">e</text>
<text x="196.16" y="250.41" font-size="16.69" textLength="10.12" lengthAdjust="spacingAndGlyphs">g</text>
<text x="206.30" y="250.20" font-size="17.31" textLength="7.13" lengthAdjust="spacingAndGlyphs">r</text>
<text x="213.82" y="250.23" font-size="17.69" textLength="9.81" lengthAdjust="spacingAndGlyphs">a</text>
<text x="223.37" y="250.23" font-size="18.49" textLength="10.58" lengthAdjust="spacingAndGlyphs">d</text>
<text x="234.52" y="250.20" font-size="18.65" textLength="4.85" lengthAdjust="spacingAndGlyphs">i</text>
<text x="239.39" y="250.23" font-size="17.62" textLength="9.00" lengthAdjust="spacingAndGlyphs">e</text>
<text x="248.39" y="250.20" font-size="17.31" textLength="10.56" lengthAdjust="spacingAndGlyphs">n</text>
<text x="258.62" y="250.21" font-size="20.17" textLength="6.43" lengthAdjust="spacingAndGlyphs">t</text>
<text x="272.67" y="250.20" font-size="17.31" textLength="15.89" lengthAdjust="spacingAndGlyphs">m</text>
<text x="288.68" y="250.23" font-size="17.69" textLength="9.81" lengthAdjust="spacingAndGlyphs">a</text>
<text x="298.54" y="250.13" font-size="17.16" textLength="10.73" lengthAdjust="spacingAndGlyphs">p</text>
<text x="315.35" y="250.23" font-size="17.62" textLength="10.13" lengthAdjust="spacingAndGlyphs">o</text>
<text x="325.28" y="250.20" font-size="18.48" textLength="6.92" lengthAdjust="spacingAndGlyphs">f</text>
<text x="337.91" y="250.41" font-size="19.97" textLength="14.63" lengthAdjust="spacingAndGlyphs">G</text>
<text x="353.18" y="250.20" font-size="19.08" textLength="13.34" lengthAdjust="spacingAndGlyphs">T</text>
<text x="367.16" y="249.97" font-size="16.46" textLength="4.85" lengthAdjust="spacingAndGlyphs">:</text>
<text class="i" x="378.03" y="250.43" font-size="20.00" textLength="15.36" lengthAdjust="spacingAndGlyphs">G</text>
<text x="394.59" y="250.48" font-size="20.36" textLength="5.82" lengthAdjust="spacingAndGlyphs">(</text>
<text class="i" x="400.52" y="250.41" font-size="18.73" textLength="6.51" lengthAdjust="spacingAndGlyphs">i</text>
<text class="i" x="408.64" y="250.46" font-size="21.49" textLength="4.03" lengthAdjust="spacingAndGlyphs">,</text>
<text class="i" x="418.32" y="250.10" font-size="18.27" textLength="6.11" lengthAdjust="spacingAndGlyphs">j</text>
<text x="425.83" y="250.48" font-size="20.36" textLength="5.82" lengthAdjust="spacingAndGlyphs">)</text>
<text x="437.89" y="250.20" font-size="18.46" textLength="15.59" lengthAdjust="spacingAndGlyphs">=</text>
<text class="i" x="459.31" y="250.41" font-size="19.97" textLength="12.24" lengthAdjust="spacingAndGlyphs">S</text>
<text class="i" x="471.90" y="250.24" font-size="17.38" textLength="9.47" lengthAdjust="spacingAndGlyphs">o</text>
<text class="i" x="481.41" y="250.23" font-size="18.49" textLength="8.29" lengthAdjust="spacingAndGlyphs">b</text>
<text class="i" x="489.78" y="250.24" font-size="17.38" textLength="8.50" lengthAdjust="spacingAndGlyphs">e</text>
<text class="i" x="498.31" y="250.41" font-size="18.75" textLength="5.72" lengthAdjust="spacingAndGlyphs">l</text>
<text x="505.89" y="250.48" font-size="20.36" textLength="5.86" lengthAdjust="spacingAndGlyphs">(</text>
<text class="i" x="511.63" y="250.20" font-size="19.25" textLength="13.38" lengthAdjust="spacingAndGlyphs">Y</text>
<text x="529.11" y="250.48" font-size="20.36" textLength="5.86" lengthAdjust="spacingAndGlyphs">(</text>
<text class="i" x="535.12" y="250.41" font-size="18.73" textLength="6.51" lengthAdjust="spacingAndGlyphs">i</text>
<text class="i" x="543.29" y="250.46" font-size="21.49" textLength="4.03" lengthAdjust="spacingAndGlyphs">,</text>
<text class="i" x="553.03" y="250.10" font-size="18.27" textLength="6.16" lengthAdjust="spacingAndGlyphs">j</text>
<text x="560.59" y="250.48" font-size="20.36" textLength="5.86" lengthAdjust="spacingAndGlyphs">)</text>
<text x="568.17" y="250.48" font-size="20.36" textLength="5.86" lengthAdjust="spacingAndGlyphs">)</text>
<text x="576.14" y="250.92" font-size="18.49" textLength="3.95" lengthAdjust="spacingAndGlyphs">;</text>
</g>
<g id="l8_n">
<text class="n" x="24.67" y="275.00" font-size="11.50" textLength="8.17" lengthAdjust="spacingAndGlyphs">8</text>
</g>
<g id="l8_t">
<text x="77.15" y="275.21" font-size="19.97" textLength="13.80" lengthAdjust="spacingAndGlyphs">C</text>
<text x="90.96" y="275.03" font-size="17.69" textLength="9.81" lengthAdjust="spacingAndGlyphs">a</text>
<text x="100.89" y="275.00" font-size="18.46" textLength="5.03" lengthAdjust="spacingAndGlyphs">l</text>
<text x="105.90" y="275.03" font-size="17.62" textLength="8.74" lengthAdjust="spacingAndGlyphs">c</text>
<text x="114.96" y="275.03" font-size="17.84" textLength="10.38" lengthAdjust="spacingAndGlyphs">u</text>
<text x="125.66" y="275.00" font-size="18.46" textLength="5.03" lengthAdjust="spacingAndGlyphs">l</text>
<text x="130.81" y="275.03" font-size="17.69" textLength="9.81" lengthAdjust="spacingAndGlyphs">a</text>
<text x="140.60" y="275.01" font-size="20.17" textLength="6.43" lengthAdjust="spacingAndGlyphs">t</text>
<text x="147.75" y="275.03" font-size="17.62" textLength="9.00" lengthAdjust="spacingAndGlyphs">e</text>
<text x="163.21" y="275.01" font-size="20.17" textLength="6.43" lengthAdjust="spacingAndGlyphs">t</text>
<text x="171.03" y="275.00" font-size="18.46" textLength="10.22" lengthAdjust="spacingAndGlyphs">h</text>
<text x="181.13" y="275.03" font-size="17.62" textLength="9.00" lengthAdjust="spacingAndGlyphs">e</text>
<text x="196.62" y="275.00" font-size="19.25" textLength="17.46" lengthAdjust="spacingAndGlyphs">M</text>
<text x="214.50" y="275.21" font-size="19.97" textLength="14.63" lengthAdjust="spacingAndGlyphs">G</text>
<text x="229.45" y="275.00" font-size="19.17" textLength="13.77" lengthAdjust="spacingAndGlyphs">E</text>
<text x="249.65" y="275.03" font-size="18.49" textLength="10.35" lengthAdjust="spacingAndGlyphs">b</text>
<text x="260.17" y="275.03" font-size="17.62" textLength="9.00" lengthAdjust="spacingAndGlyphs">e</text>
<text x="269.18" y="275.01" font-size="20.17" textLength="6.43" lengthAdjust="spacingAndGlyphs">t</text>
<text x="276.36" y="275.04" font-size="17.40" textLength="13.38" lengthAdjust="spacingAndGlyphs">w</text>
<text x="289.24" y="275.03" font-size="17.62" textLength="9.00" lengthAdjust="spacingAndGlyphs">e</text>
<text x="297.86" y="275.03" font-size="17.62" textLength="9.00" lengthAdjust="spacingAndGlyphs">e</text>
<text x="306.86" y="275.00" font-size="17.31" textLength="10.56" lengthAdjust="spacingAndGlyphs">n</text>
<text x="324.08" y="275.00" font-size="17.31" textLength="7.13" lengthAdjust="spacingAndGlyphs">r</text>
<text x="331.31" y="275.03" font-size="17.62" textLength="9.00" lengthAdjust="spacingAndGlyphs">e</text>
<text x="339.98" y="275.03" font-size="17.62" textLength="7.91" lengthAdjust="spacingAndGlyphs">s</text>
<text x="348.17" y="275.03" font-size="17.84" textLength="10.38" lengthAdjust="spacingAndGlyphs">u</text>
<text x="358.87" y="275.00" font-size="18.46" textLength="5.03" lengthAdjust="spacingAndGlyphs">l</text>
<text x="364.12" y="275.01" font-size="20.17" textLength="6.43" lengthAdjust="spacingAndGlyphs">t</text>
<text x="378.02" y="275.03" font-size="17.69" textLength="9.81" lengthAdjust="spacingAndGlyphs">a</text>
<text x="387.80" y="275.00" font-size="17.31" textLength="10.56" lengthAdjust="spacingAndGlyphs">n</text>
<text x="398.33" y="275.03" font-size="18.49" textLength="10.58" lengthAdjust="spacingAndGlyphs">d</text>
<text x="415.92" y="275.21" font-size="19.97" textLength="14.63" lengthAdjust="spacingAndGlyphs">G</text>
<text x="431.18" y="275.00" font-size="19.08" textLength="13.34" lengthAdjust="spacingAndGlyphs">T</text>
<text x="445.16" y="274.77" font-size="16.46" textLength="4.85" lengthAdjust="spacingAndGlyphs">:</text>
<text class="i" x="457.27" y="275.00" font-size="19.25" textLength="12.61" lengthAdjust="spacingAndGlyphs">L</text>
<text class="i" x="470.74" y="277.86" font-size="13.48" textLength="13.63" lengthAdjust="spacingAndGlyphs">M</text>
<text class="i" x="485.95" y="277.99" font-size="13.92" textLength="11.83" lengthAdjust="spacingAndGlyphs">G</text>
<text class="i" x="499.41" y="277.86" font-size="13.40" textLength="10.23" lengthAdjust="spacingAndGlyphs">E</text>
<text x="516.39" y="275.00" font-size="18.46" textLength="15.75" lengthAdjust="spacingAndGlyphs">=</text>
<text class="i" x="538.39" y="275.00" font-size="19.25" textLength="18.31" lengthAdjust="spacingAndGlyphs">M</text>
<text class="i" x="559.12" y="275.21" font-size="19.97" textLength="12.27" lengthAdjust="spacingAndGlyphs">S</text>
<text class="i" x="572.52" y="275.00" font-size="19.17" textLength="14.29" lengthAdjust="spacingAndGlyphs">E</text>
<text x="588.20" y="275.28" font-size="20.36" textLength="5.88" lengthAdjust="spacingAndGlyphs">(</text>
<text class="i" x="594.43" y="275.23" font-size="20.00" textLength="15.52" lengthAdjust="spacingAndGlyphs">G</text>
<text x="601.19" y="270.62" font-size="19.02" textLength="5.49" lengthAdjust="spacingAndGlyphs">ˆ</text>
<text x="611.16" y="275.28" font-size="20.36" textLength="5.88" lengthAdjust="spacingAndGlyphs">(</text>
<text class="i" x="617.20" y="275.21" font-size="18.73" textLength="6.51" lengthAdjust="spacingAndGlyphs">i</text>
<text class="i" x="625.38" y="275.26" font-size="21.49" textLength="4.03" lengthAdjust="spacingAndGlyphs">,</text>
<text class="i" x="635.14" y="274.90" font-size="18.27" textLength="6.18" lengthAdjust="spacingAndGlyphs">j</text>
<text x="642.72" y="275.28" font-size="20.36" textLength="5.88" lengthAdjust="spacingAndGlyphs">)</text>
<text class="i" x="650.82" y="275.26" font-size="21.49" textLength="4.03" lengthAdjust="spacingAndGlyphs">,</text>
<text class="i" x="658.26" y="275.23" font-size="20.00" textLength="15.52" lengthAdjust="spacingAndGlyphs">G</text>
<text x="674.98" y="275.28" font-size="20.36" textLength="5.88" lengthAdjust="spacingAndGlyphs">(</text>
<text class="i" x="681.01" y="275.21" font-size="18.73" textLength="6.51" lengthAdjust="spacingAndGlyphs">i</text>
<text class="i" x="689.19" y="275.26" font-size="21.49" textLength="4.03" lengthAdjust="spacingAndGlyphs">,</text>
<text class="i" x="698.96" y="274.90" font-size="18.27" textLength="6.18" lengthAdjust="spacingAndGlyphs">j</text>
<text x="706.54" y="275.28" font-size="20.36" textLength="5.88" lengthAdjust="spacingAndGlyphs">)</text>
<text x="714.14" y="275.28" font-size="20.36" textLength="5.88" lengthAdjust="spacingAndGlyphs">)</text>
<text x="722.13" y="275.72" font-size="18.49" textLength="3.96" lengthAdjust="spacingAndGlyphs">;</text>
</g>
<g id="l9_n">
<text class="n" x="24.77" y="296.99" font-size="11.50" textLength="8.12" lengthAdjust="spacingAndGlyphs">9</text>
</g>
<g id="l9_t">
<text x="77.85" y="296.99" font-size="19.17" textLength="12.53" lengthAdjust="spacingAndGlyphs">F</text>
<text x="89.14" y="297.02" font-size="17.84" textLength="10.27" lengthAdjust="spacingAndGlyphs">u</text>
<text x="99.26" y="297.03" font-size="17.62" textLength="7.82" lengthAdjust="spacingAndGlyphs">s</text>
<text x="106.77" y="297.03" font-size="17.62" textLength="8.90" lengthAdjust="spacingAndGlyphs">e</text>
<text x="122.06" y="297.00" font-size="20.17" textLength="6.36" lengthAdjust="spacingAndGlyphs">t</text>
<text x="129.80" y="296.99" font-size="18.46" textLength="10.11" lengthAdjust="spacingAndGlyphs">h</text>
<text x="139.79" y="297.03" font-size="17.62" textLength="8.90" lengthAdjust="spacingAndGlyphs">e</text>
<text class="i" x="155.98" y="296.99" font-size="19.25" textLength="13.24" lengthAdjust="spacingAndGlyphs">L</text>
<text class="i" x="170.27" y="299.85" font-size="13.48" textLength="14.03" lengthAdjust="spacingAndGlyphs">M</text>
<text class="i" x="187.37" y="299.97" font-size="13.90" textLength="8.69" lengthAdjust="spacingAndGlyphs">S</text>
<text class="i" x="198.56" y="299.85" font-size="13.40" textLength="10.23" lengthAdjust="spacingAndGlyphs">E</text>
<text x="211.91" y="297.25" font-size="21.49" textLength="4.03" lengthAdjust="spacingAndGlyphs">,</text>
<text class="i" x="224.37" y="296.99" font-size="19.25" textLength="12.92" lengthAdjust="spacingAndGlyphs">L</text>
<text class="i" x="238.14" y="299.97" font-size="13.90" textLength="8.69" lengthAdjust="spacingAndGlyphs">S</text>
<text class="i" x="248.74" y="299.97" font-size="13.90" textLength="8.69" lengthAdjust="spacingAndGlyphs">S</text>
<text class="i" x="259.23" y="299.85" font-size="13.48" textLength="5.61" lengthAdjust="spacingAndGlyphs">I</text>
<text class="i" x="267.55" y="299.85" font-size="13.48" textLength="13.97" lengthAdjust="spacingAndGlyphs">M</text>
<text x="290.90" y="297.02" font-size="17.69" textLength="9.81" lengthAdjust="spacingAndGlyphs">a</text>
<text x="300.77" y="296.99" font-size="17.31" textLength="10.74" lengthAdjust="spacingAndGlyphs">n</text>
<text x="311.49" y="297.02" font-size="18.49" textLength="10.77" lengthAdjust="spacingAndGlyphs">d</text>
<text class="i" x="330.18" y="296.99" font-size="19.25" textLength="13.32" lengthAdjust="spacingAndGlyphs">L</text>
<text class="i" x="344.61" y="299.85" font-size="13.48" textLength="14.03" lengthAdjust="spacingAndGlyphs">M</text>
<text class="i" x="360.49" y="299.98" font-size="13.92" textLength="12.50" lengthAdjust="spacingAndGlyphs">G</text>
<text class="i" x="374.99" y="299.85" font-size="13.40" textLength="10.23" lengthAdjust="spacingAndGlyphs">E</text>
<text x="387.54" y="296.76" font-size="16.46" textLength="5.17" lengthAdjust="spacingAndGlyphs">:</text>
</g>
<g id="mix_t">
<text class="i" x="89.75" y="321.79" font-size="19.25" textLength="17.90" lengthAdjust="spacingAndGlyphs">M</text>
<text class="i" x="108.83" y="322.00" font-size="18.73" textLength="6.51" lengthAdjust="spacingAndGlyphs">i</text>
<text class="i" x="116.69" y="322.00" font-size="18.22" textLength="9.41" lengthAdjust="spacingAndGlyphs">x</text>
<text class="i" x="127.79" y="321.79" font-size="19.17" textLength="13.96" lengthAdjust="spacingAndGlyphs">E</text>
<text x="143.13" y="322.08" font-size="20.36" textLength="5.74" lengthAdjust="spacingAndGlyphs">(</text>
<text class="i" x="148.74" y="321.79" font-size="19.25" textLength="13.13" lengthAdjust="spacingAndGlyphs">Y</text>
<text class="i" x="162.56" y="322.05" font-size="21.49" textLength="4.03" lengthAdjust="spacingAndGlyphs">,</text>
<text class="i" x="169.37" y="321.79" font-size="19.25" textLength="13.13" lengthAdjust="spacingAndGlyphs">Y</text>
<text x="175.02" y="317.41" font-size="19.02" textLength="5.37" lengthAdjust="spacingAndGlyphs">ˆ</text>
<text x="185.91" y="322.08" font-size="20.36" textLength="5.74" lengthAdjust="spacingAndGlyphs">)</text>
<text x="198.01" y="321.79" font-size="18.46" textLength="15.79" lengthAdjust="spacingAndGlyphs">=</text>
<text class="i" x="220.05" y="321.79" font-size="19.25" textLength="17.81" lengthAdjust="spacingAndGlyphs">M</text>
<text class="i" x="240.21" y="322.01" font-size="19.97" textLength="11.93" lengthAdjust="spacingAndGlyphs">S</text>
<text class="i" x="253.24" y="321.79" font-size="19.17" textLength="13.89" lengthAdjust="spacingAndGlyphs">E</text>
<text x="271.30" y="321.79" font-size="18.46" textLength="15.31" lengthAdjust="spacingAndGlyphs">+</text>
<text class="i" x="292.13" y="322.03" font-size="18.53" textLength="9.49" lengthAdjust="spacingAndGlyphs">λ</text>
<text class="i" x="301.81" y="324.78" font-size="13.92" textLength="11.59" lengthAdjust="spacingAndGlyphs">G</text>
<text class="i" x="315.69" y="321.79" font-size="19.25" textLength="17.94" lengthAdjust="spacingAndGlyphs">M</text>
<text class="i" x="335.09" y="322.02" font-size="20.00" textLength="15.21" lengthAdjust="spacingAndGlyphs">G</text>
<text class="i" x="351.34" y="321.79" font-size="19.17" textLength="14.00" lengthAdjust="spacingAndGlyphs">E</text>
<text x="369.55" y="321.79" font-size="18.46" textLength="15.43" lengthAdjust="spacingAndGlyphs">+</text>
<text class="i" x="390.56" y="322.03" font-size="18.53" textLength="10.00" lengthAdjust="spacingAndGlyphs">λ</text>
<text class="i" x="401.93" y="324.77" font-size="13.90" textLength="8.69" lengthAdjust="spacingAndGlyphs">S</text>
<text class="i" x="413.23" y="322.01" font-size="19.97" textLength="12.48" lengthAdjust="spacingAndGlyphs">S</text>
<text class="i" x="426.77" y="322.01" font-size="19.97" textLength="12.48" lengthAdjust="spacingAndGlyphs">S</text>
<text class="i" x="440.37" y="321.79" font-size="19.25" textLength="8.01" lengthAdjust="spacingAndGlyphs">I</text>
<text class="i" x="451.02" y="321.79" font-size="19.25" textLength="18.90" lengthAdjust="spacingAndGlyphs">M</text>
<text x="472.64" y="322.51" font-size="18.49" textLength="4.09" lengthAdjust="spacingAndGlyphs">;</text>
</g>
<g id="l10_n">
<text class="n" x="12.59" y="342.90" font-size="11.50" textLength="10.04" lengthAdjust="spacingAndGlyphs">1</text>
<text class="n" x="24.14" y="342.90" font-size="11.50" textLength="8.72" lengthAdjust="spacingAndGlyphs">0</text>
</g>
<g id="l10_t">
<text x="77.59" y="343.12" font-size="19.58" textLength="14.04" lengthAdjust="spacingAndGlyphs">U</text>
<text x="92.08" y="342.83" font-size="17.16" textLength="10.73" lengthAdjust="spacingAndGlyphs">p</text>
<text x="103.07" y="342.93" font-size="18.49" textLength="10.57" lengthAdjust="spacingAndGlyphs">d</text>
<text x="113.97" y="342.93" font-size="17.69" textLength="9.81" lengthAdjust="spacingAndGlyphs">a</text>
<text x="123.76" y="342.91" font-size="20.17" textLength="6.42" lengthAdjust="spacingAndGlyphs">t</text>
<text x="130.90" y="342.93" font-size="17.62" textLength="8.98" lengthAdjust="spacingAndGlyphs">e</text>
<text x="146.34" y="342.91" font-size="20.17" textLength="6.42" lengthAdjust="spacingAndGlyphs">t</text>
<text x="154.15" y="342.90" font-size="18.46" textLength="10.21" lengthAdjust="spacingAndGlyphs">h</text>
<text x="164.23" y="342.93" font-size="17.62" textLength="8.98" lengthAdjust="spacingAndGlyphs">e</text>
<text x="179.86" y="342.94" font-size="17.40" textLength="13.36" lengthAdjust="spacingAndGlyphs">w</text>
<text x="192.74" y="342.93" font-size="17.62" textLength="8.98" lengthAdjust="spacingAndGlyphs">e</text>
<text x="201.87" y="342.90" font-size="18.65" textLength="4.84" lengthAdjust="spacingAndGlyphs">i</text>
<text x="206.65" y="343.11" font-size="16.69" textLength="10.10" lengthAdjust="spacingAndGlyphs">g</text>
<text x="217.07" y="342.90" font-size="18.46" textLength="10.21" lengthAdjust="spacingAndGlyphs">h</text>
<text x="227.01" y="342.91" font-size="20.17" textLength="6.42" lengthAdjust="spacingAndGlyphs">t</text>
<text x="240.52" y="343.11" font-size="16.69" textLength="10.10" lengthAdjust="spacingAndGlyphs">g</text>
<text x="250.64" y="342.90" font-size="17.31" textLength="7.12" lengthAdjust="spacingAndGlyphs">r</text>
<text x="258.14" y="342.93" font-size="17.69" textLength="9.81" lengthAdjust="spacingAndGlyphs">a</text>
<text x="267.68" y="342.93" font-size="18.49" textLength="10.57" lengthAdjust="spacingAndGlyphs">d</text>
<text x="278.82" y="342.90" font-size="18.65" textLength="4.84" lengthAdjust="spacingAndGlyphs">i</text>
<text x="283.67" y="342.93" font-size="17.62" textLength="8.98" lengthAdjust="spacingAndGlyphs">e</text>
<text x="292.66" y="342.90" font-size="17.31" textLength="10.54" lengthAdjust="spacingAndGlyphs">n</text>
<text x="302.88" y="342.91" font-size="20.17" textLength="6.42" lengthAdjust="spacingAndGlyphs">t</text>
<text x="310.08" y="342.93" font-size="17.62" textLength="7.90" lengthAdjust="spacingAndGlyphs">s</text>
<text x="324.14" y="342.93" font-size="17.62" textLength="10.12" lengthAdjust="spacingAndGlyphs">o</text>
<text x="334.05" y="342.90" font-size="18.48" textLength="6.91" lengthAdjust="spacingAndGlyphs">f</text>
<text x="346.55" y="342.90" font-size="17.31" textLength="10.54" lengthAdjust="spacingAndGlyphs">n</text>
<text x="356.92" y="342.93" font-size="17.62" textLength="8.98" lengthAdjust="spacingAndGlyphs">e</text>
<text x="365.92" y="342.91" font-size="20.17" textLength="6.42" lengthAdjust="spacingAndGlyphs">t</text>
<text x="373.09" y="342.94" font-size="17.40" textLength="13.36" lengthAdjust="spacingAndGlyphs">w</text>
<text x="385.97" y="342.93" font-size="17.62" textLength="10.12" lengthAdjust="spacingAndGlyphs">o</text>
<text x="396.00" y="342.90" font-size="17.31" textLength="7.12" lengthAdjust="spacingAndGlyphs">r</text>
<text x="403.64" y="342.90" font-size="18.46" textLength="9.72" lengthAdjust="spacingAndGlyphs">k</text>
<text x="413.97" y="342.67" font-size="16.46" textLength="4.85" lengthAdjust="spacingAndGlyphs">:</text>
<text class="i" x="426.65" y="343.12" font-size="19.58" textLength="10.34" lengthAdjust="spacingAndGlyphs">J</text>
<text x="439.39" y="343.18" font-size="20.36" textLength="5.83" lengthAdjust="spacingAndGlyphs">(</text>
<text class="i" x="445.66" y="342.92" font-size="18.64" textLength="9.39" lengthAdjust="spacingAndGlyphs">θ</text>
<text class="i" x="454.69" y="345.75" font-size="14.32" textLength="4.97" lengthAdjust="spacingAndGlyphs">t</text>
<text x="462.25" y="343.18" font-size="20.36" textLength="5.83" lengthAdjust="spacingAndGlyphs">)</text>
<text x="474.35" y="342.90" font-size="18.46" textLength="15.63" lengthAdjust="spacingAndGlyphs">=</text>
<text class="i" x="496.87" y="342.90" font-size="20.02" textLength="12.15" lengthAdjust="spacingAndGlyphs">A</text>
<text class="i" x="509.83" y="342.92" font-size="18.48" textLength="9.77" lengthAdjust="spacingAndGlyphs">d</text>
<text class="i" x="519.91" y="342.93" font-size="17.38" textLength="10.26" lengthAdjust="spacingAndGlyphs">a</text>
<text class="i" x="530.55" y="343.11" font-size="17.75" textLength="16.02" lengthAdjust="spacingAndGlyphs">m</text>
<text x="548.17" y="343.18" font-size="20.36" textLength="5.83" lengthAdjust="spacingAndGlyphs">(</text>
<text class="i" x="555.63" y="342.90" font-size="19.25" textLength="18.17" lengthAdjust="spacingAndGlyphs">M</text>
<text class="i" x="575.05" y="343.11" font-size="18.73" textLength="6.51" lengthAdjust="spacingAndGlyphs">i</text>
<text class="i" x="582.99" y="343.11" font-size="18.22" textLength="9.55" lengthAdjust="spacingAndGlyphs">x</text>
<text class="i" x="594.25" y="342.90" font-size="19.17" textLength="14.18" lengthAdjust="spacingAndGlyphs">E</text>
<text x="609.22" y="343.18" font-size="20.36" textLength="5.83" lengthAdjust="spacingAndGlyphs">)</text>
<text x="617.15" y="343.62" font-size="18.49" textLength="3.93" lengthAdjust="spacingAndGlyphs">;</text>
</g>
<g id="l11_n">
<text class="n" x="12.67" y="364.89" font-size="11.50" textLength="9.54" lengthAdjust="spacingAndGlyphs">1</text>
<text class="n" x="22.26" y="364.89" font-size="11.50" textLength="10.35" lengthAdjust="spacingAndGlyphs">1</text>
</g>
<g id="l11_t">
<text x="77.59" y="365.11" font-size="19.58" textLength="14.05" lengthAdjust="spacingAndGlyphs">U</text>
<text x="92.09" y="364.82" font-size="17.16" textLength="10.73" lengthAdjust="spacingAndGlyphs">p</text>
<text x="103.08" y="364.92" font-size="18.49" textLength="10.57" lengthAdjust="spacingAndGlyphs">d</text>
<text x="113.99" y="364.92" font-size="17.69" textLength="9.81" lengthAdjust="spacingAndGlyphs">a</text>
<text x="123.78" y="364.90" font-size="20.17" textLength="6.42" lengthAdjust="spacingAndGlyphs">t</text>
<text x="130.92" y="364.93" font-size="17.62" textLength="8.99" lengthAdjust="spacingAndGlyphs">e</text>
<text x="146.37" y="364.90" font-size="20.17" textLength="6.42" lengthAdjust="spacingAndGlyphs">t</text>
<text x="154.18" y="364.89" font-size="18.46" textLength="10.21" lengthAdjust="spacingAndGlyphs">h</text>
<text x="164.27" y="364.93" font-size="17.62" textLength="8.99" lengthAdjust="spacingAndGlyphs">e</text>
<text x="179.91" y="364.93" font-size="17.40" textLength="13.37" lengthAdjust="spacingAndGlyphs">w</text>
<text x="192.79" y="364.93" font-size="17.62" textLength="8.99" lengthAdjust="spacingAndGlyphs">e</text>
<text x="201.92" y="364.89" font-size="18.65" textLength="4.84" lengthAdjust="spacingAndGlyphs">i</text>
<text x="206.70" y="365.10" font-size="16.69" textLength="10.10" lengthAdjust="spacingAndGlyphs">g</text>
<text x="217.13" y="364.89" font-size="18.46" textLength="10.21" lengthAdjust="spacingAndGlyphs">h</text>
<text x="227.07" y="364.90" font-size="20.17" textLength="6.42" lengthAdjust="spacingAndGlyphs">t</text>
<text x="240.68" y="364.93" font-size="17.62" textLength="10.12" lengthAdjust="spacingAndGlyphs">o</text>
<text x="250.60" y="364.89" font-size="18.48" textLength="6.91" lengthAdjust="spacingAndGlyphs">f</text>
<text x="263.10" y="364.89" font-size="17.31" textLength="10.55" lengthAdjust="spacingAndGlyphs">n</text>
<text x="273.48" y="364.93" font-size="17.62" textLength="8.99" lengthAdjust="spacingAndGlyphs">e</text>
<text x="282.48" y="364.90" font-size="20.17" textLength="6.42" lengthAdjust="spacingAndGlyphs">t</text>
<text x="289.67" y="364.93" font-size="17.40" textLength="13.37" lengthAdjust="spacingAndGlyphs">w</text>
<text x="302.56" y="364.93" font-size="17.62" textLength="10.12" lengthAdjust="spacingAndGlyphs">o</text>
<text x="312.59" y="364.89" font-size="17.31" textLength="7.12" lengthAdjust="spacingAndGlyphs">r</text>
<text x="320.23" y="364.89" font-size="18.46" textLength="9.73" lengthAdjust="spacingAndGlyphs">k</text>
<text x="330.57" y="364.66" font-size="16.46" textLength="4.85" lengthAdjust="spacingAndGlyphs">:</text>
<text class="i" x="341.64" y="364.92" font-size="18.64" textLength="9.64" lengthAdjust="spacingAndGlyphs">θ</text>
<text class="i" x="350.98" y="367.74" font-size="14.32" textLength="4.97" lengthAdjust="spacingAndGlyphs">t</text>
<text x="356.99" y="367.75" font-size="12.92" textLength="12.42" lengthAdjust="spacingAndGlyphs">+</text>
<text x="369.58" y="367.75" font-size="13.00" textLength="7.20" lengthAdjust="spacingAndGlyphs">1</text>
<text x="383.48" y="364.89" font-size="18.46" textLength="16.04" lengthAdjust="spacingAndGlyphs">=</text>
<text class="i" x="404.67" y="364.92" font-size="18.64" textLength="9.64" lengthAdjust="spacingAndGlyphs">θ</text>
<text class="i" x="414.01" y="367.74" font-size="14.32" textLength="4.97" lengthAdjust="spacingAndGlyphs">t</text>
<text x="425.91" y="364.89" font-size="18.46" textLength="14.73" lengthAdjust="spacingAndGlyphs">−</text>
<text class="i" x="445.24" y="365.10" font-size="17.74" textLength="11.00" lengthAdjust="spacingAndGlyphs">η</text>
<text class="i" x="457.10" y="365.11" font-size="19.58" textLength="10.61" lengthAdjust="spacingAndGlyphs">J</text>
<text x="470.18" y="365.18" font-size="20.36" textLength="5.99" lengthAdjust="spacingAndGlyphs">(</text>
<text class="i" x="476.61" y="364.92" font-size="18.64" textLength="9.64" lengthAdjust="spacingAndGlyphs">θ</text>
<text class="i" x="485.95" y="367.74" font-size="14.32" textLength="4.97" lengthAdjust="spacingAndGlyphs">t</text>
<text x="493.64" y="365.18" font-size="20.36" textLength="5.99" lengthAdjust="spacingAndGlyphs">)</text>
<text x="501.78" y="365.61" font-size="18.49" textLength="4.03" lengthAdjust="spacingAndGlyphs">;</text>
</g>
<g id="l12_n">
<text class="n" x="12.34" y="390.19" font-size="11.50" textLength="9.13" lengthAdjust="spacingAndGlyphs">1</text>
<text class="n" x="21.97" y="390.19" font-size="11.50" textLength="9.55" lengthAdjust="spacingAndGlyphs">2</text>
</g>
<g id="l12_t">
<text class="b" x="44.09" y="390.09" font-size="17.86" textLength="11.43" lengthAdjust="spacingAndGlyphs">u</text>
<text class="b" x="55.69" y="390.19" font-size="17.63" textLength="11.43" lengthAdjust="spacingAndGlyphs">n</text>
<text class="b" x="66.70" y="390.10" font-size="20.66" textLength="7.13" lengthAdjust="spacingAndGlyphs">t</text>
<text class="b" x="75.42" y="390.19" font-size="18.49" textLength="5.10" lengthAdjust="spacingAndGlyphs">i</text>
<text class="b" x="81.37" y="390.19" font-size="18.46" textLength="5.25" lengthAdjust="spacingAndGlyphs">l</text>
<text class="i" x="96.75" y="390.19" font-size="19.25" textLength="17.78" lengthAdjust="spacingAndGlyphs">M</text>
<text class="i" x="115.68" y="390.40" font-size="18.73" textLength="6.51" lengthAdjust="spacingAndGlyphs">i</text>
<text class="i" x="123.52" y="390.40" font-size="18.22" textLength="9.34" lengthAdjust="spacingAndGlyphs">x</text>
<text class="i" x="134.54" y="390.19" font-size="19.17" textLength="13.87" lengthAdjust="spacingAndGlyphs">E</text>
<text x="149.77" y="390.48" font-size="20.36" textLength="5.71" lengthAdjust="spacingAndGlyphs">(</text>
<text class="i" x="155.35" y="390.19" font-size="19.25" textLength="13.05" lengthAdjust="spacingAndGlyphs">Y</text>
<text class="i" x="169.07" y="390.45" font-size="21.49" textLength="4.03" lengthAdjust="spacingAndGlyphs">,</text>
<text class="i" x="175.84" y="390.19" font-size="19.25" textLength="13.05" lengthAdjust="spacingAndGlyphs">Y</text>
<text x="181.45" y="385.81" font-size="19.02" textLength="5.33" lengthAdjust="spacingAndGlyphs">ˆ</text>
<text x="192.28" y="390.48" font-size="20.36" textLength="5.71" lengthAdjust="spacingAndGlyphs">)</text>
<text class="i" x="207.46" y="390.23" font-size="17.38" textLength="7.86" lengthAdjust="spacingAndGlyphs">c</text>
<text class="i" x="215.56" y="390.23" font-size="17.38" textLength="8.97" lengthAdjust="spacingAndGlyphs">o</text>
<text class="i" x="225.18" y="390.40" font-size="17.75" textLength="11.09" lengthAdjust="spacingAndGlyphs">n</text>
<text class="i" x="236.55" y="390.22" font-size="17.84" textLength="8.37" lengthAdjust="spacingAndGlyphs">v</text>
<text class="i" x="245.98" y="390.23" font-size="17.38" textLength="7.96" lengthAdjust="spacingAndGlyphs">e</text>
<text class="i" x="254.24" y="390.40" font-size="17.75" textLength="8.63" lengthAdjust="spacingAndGlyphs">r</text>
<text class="i" x="261.75" y="390.26" font-size="17.47" textLength="9.14" lengthAdjust="spacingAndGlyphs">g</text>
<text class="i" x="271.52" y="390.23" font-size="17.38" textLength="7.96" lengthAdjust="spacingAndGlyphs">e</text>
<text class="i" x="280.19" y="390.23" font-size="17.38" textLength="7.62" lengthAdjust="spacingAndGlyphs">s</text>
<text x="289.59" y="390.91" font-size="18.49" textLength="4.01" lengthAdjust="spacingAndGlyphs">;</text>
</g></svg></body></html>
